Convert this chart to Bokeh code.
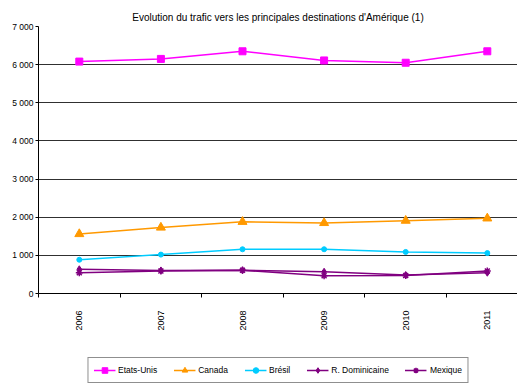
import math
from bokeh.plotting import figure
from bokeh.layouts import column
from bokeh.models import Range1d, FixedTicker, Legend, LegendItem
from bokeh.embed import file_html
from bokeh.resources import INLINE

# Traffic figures per destination (passengers, thousands)
years = ["2006", "2007", "2008", "2009", "2010", "2011"]
etats_unis = [6080, 6150, 6350, 6110, 6050, 6350]
canada = [1560, 1730, 1880, 1850, 1910, 1970]
bresil = [885, 1020, 1160, 1160, 1090, 1060]
rep_dominicaine = [635, 605, 610, 570, 485, 545]
mexique = [545, 590, 610, 465, 470, 590]

y_ticks = [0, 1000, 2000, 3000, 4000, 5000, 6000, 7000]
y_tick_labels = ["0", "1 000", "2 000", "3 000", "4 000", "5 000", "6 000", "7 000"]

title_text = "Evolution du trafic vers les principales destinations d'Amérique (1)"

FONT = "Liberation Sans"

xs = list(range(len(years)))

series = [
    ("Etats-Unis", etats_unis, "#FF00FF", "square", 7, 1),
    ("Canada", canada, "#FF9900", "triangle", 9, 1),
    ("Brésil", bresil, "#00CCFF", "circle", 5, 1),
    ("R. Dominicaine", rep_dominicaine, "#800080", "diamond", 7, 1),
    ("Mexique", mexique, "#800080", "asterisk", 7, 1.5),
]

# ---- main chart ----
p = figure(width=517, height=333,
           min_border_left=38, min_border_right=0, min_border_top=26,
           min_border_bottom=0,
           x_range=Range1d(-0.5, -0.5 + 479 / 81.6),
           y_range=Range1d(0, 7000),
           output_backend="svg", toolbar_location=None)

p.outline_line_color = None
p.background_fill_color = "white"
p.border_fill_color = "white"

p.title.text = title_text
p.title.align = "center"
p.title.vertical_align = "top"
p.title.text_font = FONT
p.title.text_font_size = "10px"
p.title.text_font_style = "normal"
p.title.text_color = "black"
p.title.standoff = 4

# x axis: year labels at category centres, ticks between categories
p.xaxis.ticker = FixedTicker(ticks=xs, minor_ticks=[i - 0.5 for i in range(len(years) + 1)])
p.xaxis.major_label_overrides = {i: y for i, y in enumerate(years)}
p.xaxis.major_label_orientation = math.pi / 2
p.xaxis.major_tick_out = 0
p.xaxis.major_tick_in = 0
p.xaxis.minor_tick_out = 4
p.xaxis.minor_tick_in = 0
p.xaxis.minor_tick_line_color = "black"
p.xaxis.axis_line_color = "black"
p.xaxis.major_label_standoff = 13
p.xaxis.major_label_text_font = FONT
p.xaxis.major_label_text_font_size = "9px"
p.xaxis.major_label_text_color = "black"

# y axis with thousands separated by a space
p.yaxis.ticker = FixedTicker(ticks=y_ticks, minor_ticks=[])
p.yaxis.major_label_overrides = {t: l for t, l in zip(y_ticks, y_tick_labels)}
p.yaxis.major_tick_out = 3
p.yaxis.major_tick_in = 0
p.yaxis.major_label_standoff = 2
p.yaxis.axis_line_color = "black"
p.yaxis.major_tick_line_color = "black"
p.yaxis.major_label_text_font = FONT
p.yaxis.major_label_text_font_size = "8.5px"
p.yaxis.major_label_text_color = "black"

p.xgrid.visible = False
p.ygrid.ticker = FixedTicker(ticks=y_ticks)
p.ygrid.grid_line_color = "#303030"
p.ygrid.grid_line_width = 1

for name, vals, color, marker, size, mlw in series:
    p.line(xs, vals, line_color=color, line_width=1.5)
    p.scatter(xs, vals, marker=marker, size=size, fill_color=color,
              line_color=color, line_width=mlw)

# ---- legend strip below the chart ----
# The strip's range (0..1) keeps its copies of the series out of view;
# they only provide the legend's line and marker swatches.
lg = figure(width=517, height=50, min_border_left=31, min_border_right=0,
            min_border_top=0, min_border_bottom=0,
            x_range=Range1d(0, 1), y_range=Range1d(0, 1),
            x_axis_type=None, y_axis_type=None,
            output_backend="svg", toolbar_location=None)
lg.outline_line_color = None
lg.grid.visible = False
lg.background_fill_color = "white"
lg.border_fill_color = "white"

items = []
for name, vals, color, marker, size, mlw in series:
    lr = lg.line(xs, vals, line_color=color, line_width=1.5)
    sr = lg.scatter(xs, vals, marker=marker, size=size, fill_color=color,
                    line_color=color, line_width=mlw)
    items.append(LegendItem(label=name, renderers=[lr, sr]))

legend = Legend(items=items, orientation="horizontal", location="bottom_center",
                label_text_font=FONT, label_text_font_size="8.5px",
                label_text_color="black",
                glyph_width=22, glyph_height=14, label_height=14,
                label_standoff=3, spacing=16, padding=5, margin=0,
                border_line_color="#202020", border_line_width=1,
                background_fill_color="white", background_fill_alpha=1)
lg.add_layout(legend, "center")

layout = column(p, lg, spacing=0)
open("out.html", "w").write(file_html(layout, INLINE))
